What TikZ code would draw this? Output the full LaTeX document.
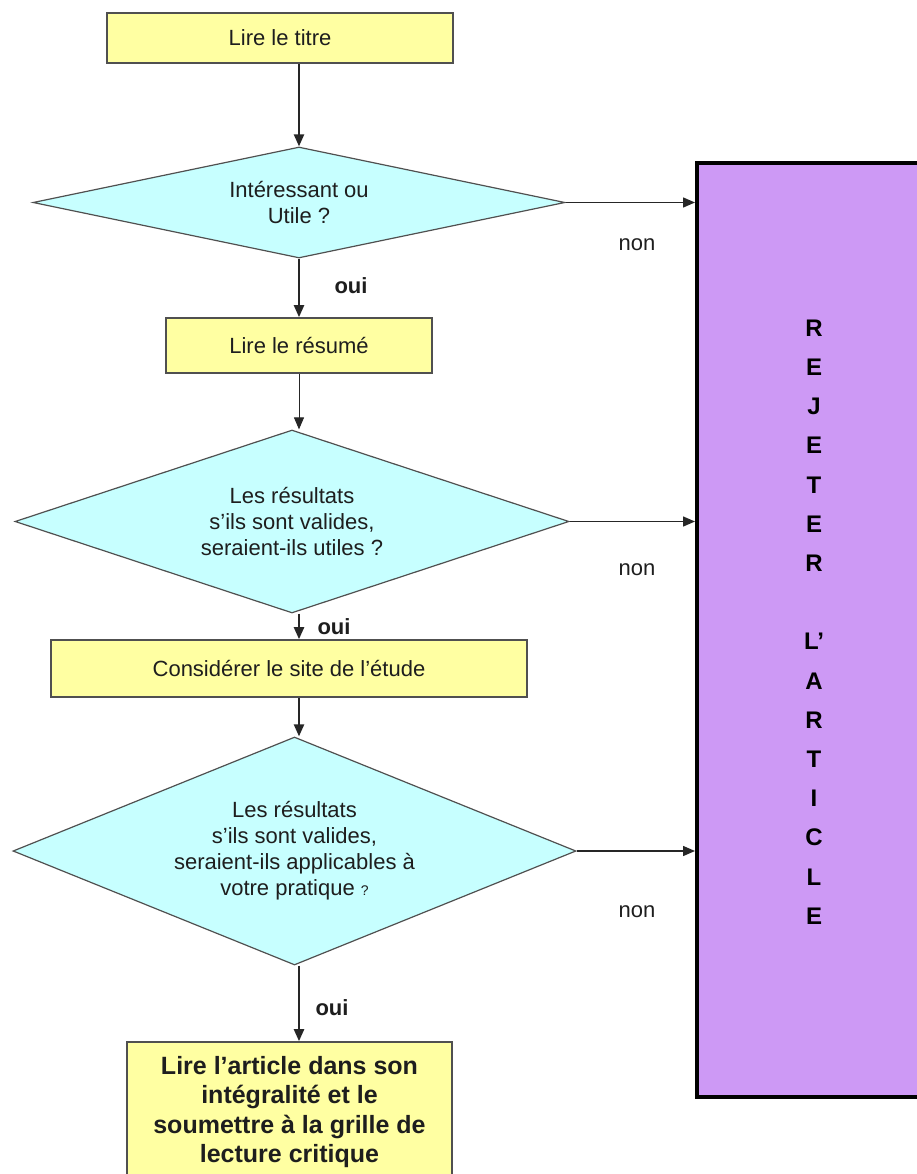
\documentclass[tikz,border=0pt]{standalone}
\usepackage{fontspec}
\setmainfont{Liberation Sans}
\usetikzlibrary{shapes.geometric,arrows.meta}
\definecolor{boxyellow}{RGB}{255,255,162}
\definecolor{diacyan}{RGB}{199,255,255}
\definecolor{rejpurple}{RGB}{205,153,245}
\definecolor{edgegray}{RGB}{80,80,80}
\definecolor{txt}{RGB}{30,30,30}
\begin{document}
\begin{tikzpicture}[x=1pt,y=-1pt,
  ybox/.style={draw=edgegray,line width=1.6pt,fill=boxyellow,inner sep=0pt,text=txt,
    font=\fontsize{22}{26}\selectfont,align=center},
  dia/.style={diamond,draw=edgegray,line width=1.2pt,fill=diacyan,inner sep=0pt,text=txt,
    font=\fontsize{22}{26}\selectfont,align=center},
  rbox/.style={rectangle,draw=black,line width=4pt,fill=rejpurple,inner sep=0pt},
  arr/.style={draw=black!85,line width=2.2pt,-{Triangle[length=12pt,width=10pt]}},
  harr/.style={draw=black!85,line width=1.4pt,-{Triangle[length=12pt,width=10pt]}},
  nonlbl/.style={font=\fontsize{22}{26}\selectfont,text=txt,inner sep=0pt},
  ouilbl/.style={font=\fontsize{22}{26}\selectfont\bfseries,text=txt,inner sep=0pt}]
\useasboundingbox (0,0) rectangle (917,1174);
\clip (0,0) rectangle (917,1174);
\fill[white] (0,0) rectangle (917,1174);

% reject box
\node[rbox,minimum width=238pt,minimum height=934pt] (rj) at (816,630) {};
\node[font=\fontsize{24}{39.2}\selectfont\bfseries,align=center,text=black,inner sep=0pt]
  (rjtext) at (814,622) {R\\E\\J\\E\\T\\E\\R\\[39.2pt]L’\\A\\R\\T\\I\\C\\L\\E};

% boxes
\node[ybox,minimum width=346pt,minimum height=50pt] (b1) at (280,38) {Lire le titre};
\node[ybox,minimum width=266pt,minimum height=55pt] (b2) at (299,345.5) {Lire le résumé};
\node[ybox,minimum width=476pt,minimum height=57pt] (b3) at (289,668.5) {Considérer le site de l’étude};
\node[ybox,minimum width=325pt,minimum height=140pt,font=\fontsize{25}{29.5}\selectfont\bfseries]
  (b4) at (289.5,1112) {Lire l’article dans son\\intégralité et le\\soumettre à la grille de\\lecture critique};

% diamonds
\node[dia,minimum width=532pt,minimum height=111pt,shape aspect=4.8] (d1) at (299,202.5)
  {Intéressant ou\\Utile ?};
\node[dia,minimum width=554pt,minimum height=183pt,shape aspect=3.0] (d2) at (292,521.5)
  {Les résultats\\s’ils sont valides,\\seraient-ils utiles ?};
\node[dia,minimum width=563pt,minimum height=228pt,shape aspect=2.47] (d3) at (294.5,851)
  {Les résultats\\s’ils sont valides,\\seraient-ils applicables à\\votre pratique {\fontsize{14}{16}\selectfont ?}};

% vertical connectors
\draw[arr] (b1.south -| d1.north) -- (d1.north);
\draw[arr] (d1.south) -- (b2.north);
\draw[draw=black!85,line width=1pt,-{Triangle[length=12pt,width=10pt]}] (b2.south) -- (b2.south |- d2.north);
\draw[arr] (b2.south |- d2.south) -- (b2.south |- b3.north);
\draw[arr] (b2.south |- b3.south) -- (b2.south |- d3.north);
\draw[arr] (b2.south |- d3.south) -- (b2.south |- b4.north);

% horizontal connectors
\draw[harr] (d1.east) -- (d1.east -| rj.west);
\draw[harr] (d2.east) -- (d2.east -| rj.west);
\draw[harr] (d3.east) -- (d3.east -| rj.west);

% labels
\node[nonlbl] (n1) at (637,245) {non};
\node[nonlbl] (n2) at (637,570) {non};
\node[nonlbl] (n3) at (637,912) {non};
\node[ouilbl] (o1) at (351,286) {oui};
\node[ouilbl] (o2) at (334,627) {oui};
\node[ouilbl] (o3) at (332,1008) {oui};
\end{tikzpicture}
\end{document}
